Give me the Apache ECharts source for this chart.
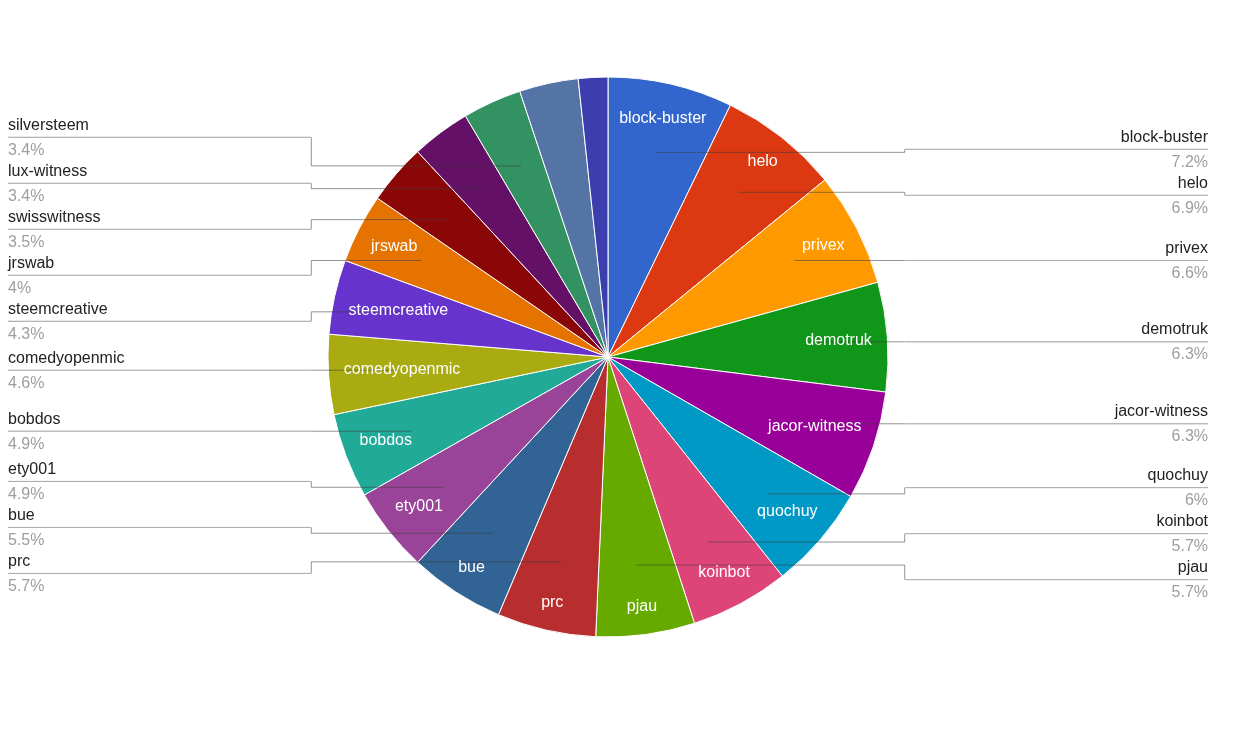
<!DOCTYPE html>
<html>
<head>
<meta charset="utf-8">
<title>witness share</title>
<script src="https://cdn.jsdelivr.net/npm/echarts@6/dist/echarts.min.js"></script>
<style>
  html, body { margin: 0; padding: 0; background: #fff; }
  #main { width: 1250px; height: 750px; }
</style>
</head>
<body>
<div id="main"></div>
<script>
// slice names (the last two have no label in the picture)
var names = ['block-buster', 'helo', 'privex', 'demotruk', 'jacor-witness', 'quochuy',
  'koinbot', 'pjau', 'prc', 'bue', 'ety001', 'bobdos', 'comedyopenmic', 'steemcreative',
  'jrswab', 'swisswitness', 'lux-witness', 'silversteem', '', ''];
// share in percent
var shares = [7.2, 6.9, 6.6, 6.3, 6.3, 6, 5.7, 5.7, 5.7, 5.5, 4.9, 4.9, 4.6, 4.3,
  4, 3.5, 3.4, 3.4, 3.4, 1.7];
var colors = ['#3366cc', '#dc3912', '#ff9900', '#109618', '#990099', '#0099c6', '#dd4477',
  '#66aa00', '#b82e2e', '#316395', '#994499', '#22aa99', '#aaaa11', '#6633cc', '#e67300',
  '#8b0707', '#651067', '#329262', '#5574a6', '#3b3eac'];

var CX = 608, CY = 357, R = 280;
var FONT = '"Liberation Sans", Arial, sans-serif';
var FS = 16;
var GAP = 46; // vertical room of one outside label

// anchor of each leader line: 3/4 of the radius on the slice's middle angle
var total = shares.reduce(function (a, b) { return a + b; }, 0);
var anchors = [];
var cum = 0;
shares.forEach(function (s) {
  var th = 2 * Math.PI * (cum + s / 2) / total;
  cum += s;
  anchors.push({ x: CX + 0.75 * R * Math.sin(th), y: CY - 0.75 * R * Math.cos(th), right: Math.sin(th) >= 0 });
});

// stack the outside labels of each side around their anchors without overlap
var labelY = [];
function spread(items) {
  items.sort(function (a, b) { return a.y - b.y; });
  var clusters = [];
  items.forEach(function (it) {
    clusters.push({ members: [it], sum: it.y });
    while (clusters.length > 1) {
      var b = clusters[clusters.length - 1], a = clusters[clusters.length - 2];
      var aTop = a.sum / a.members.length - (a.members.length - 1) * GAP / 2;
      var bTop = b.sum / b.members.length - (b.members.length - 1) * GAP / 2;
      if (aTop + a.members.length * GAP <= bTop) break;
      a.members = a.members.concat(b.members);
      a.sum += b.sum;
      clusters.pop();
    }
  });
  clusters.forEach(function (c) {
    var top = c.sum / c.members.length - (c.members.length - 1) * GAP / 2;
    c.members.forEach(function (m, k) { labelY[m.i] = top + k * GAP; });
  });
}
var leftItems = [], rightItems = [];
names.forEach(function (n, i) {
  if (n === '') return;
  (anchors[i].right ? rightItems : leftItems).push({ i: i, y: anchors[i].y });
});
spread(leftItems);
spread(rightItems);

var chart = echarts.init(document.getElementById('main'));

var sliceData = names.map(function (n, i) {
  return { name: n, value: shares[i] };
});
var outerData = names.map(function (n, i) {
  return { name: n, value: shares[i], label: { show: n !== '' }, labelLine: { show: n !== '' } };
});
// names drawn inside the slice only where they fit
var innerData = names.map(function (n, i) {
  return { name: n, value: shares[i], label: { show: n !== '' && shares[i] >= 4 } };
});

var base = {
  type: 'pie',
  left: 0, top: 0, right: 34, bottom: 0,
  center: [CX, CY],
  radius: [0, R],
  startAngle: 90,
  clockwise: true
};

var option = {
  backgroundColor: '#fff',
  animation: false,
  series: [
    Object.assign({}, base, {
      z: 2,
      color: colors,
      itemStyle: { borderColor: '#fff', borderWidth: 1 },
      emphasis: { disabled: true },
      label: { show: false },
      labelLine: { show: false },
      data: sliceData
    }),
    Object.assign({}, base, {
      z: 5,
      silent: true,
      emphasis: { disabled: true },
      itemStyle: { color: 'rgba(0,0,0,0)', borderWidth: 0 },
      avoidLabelOverlap: false,
      label: {
        position: 'outer',
        alignTo: 'edge',
        edgeDistance: 8,
        distanceToLabelLine: 0,
        width: 303,
        formatter: '{n|{b}}\n{hr|}\n{p|{d}%}',
        rich: {
          n: { fontSize: FS, fontFamily: FONT, color: '#222', lineHeight: 22 },
          hr: { width: '100%', height: 0, lineHeight: 2, borderColor: '#9a9a9a', borderWidth: 0.6 },
          p: { fontSize: FS, fontFamily: FONT, color: '#9e9e9e', lineHeight: 24 }
        }
      },
      labelLine: {
        show: true,
        length: 10,
        length2: 10,
        lineStyle: { color: 'rgba(60,60,60,0.55)', width: 1 }
      },
      labelLayout: function (p) {
        var i = p.dataIndex;
        var a = anchors[i];
        var ly = labelY[i];
        var rc = p.labelRect;
        var ex = a.right ? rc.x : rc.x + rc.width;
        return { y: ly + 1, labelLinePoints: [[a.x, a.y], [ex, a.y], [ex, ly]] };
      },
      data: outerData
    }),
    Object.assign({}, base, {
      z: 6,
      silent: true,
      emphasis: { disabled: true },
      itemStyle: { color: 'rgba(0,0,0,0)', borderWidth: 0 },
      label: { position: 'inside', color: '#fff', fontSize: FS, fontFamily: FONT },
      labelLine: { show: false },
      labelLayout: function (p) {
        var rc = p.labelRect;
        var mx = rc.x + rc.width / 2, my = rc.y + rc.height / 2;
        var dx = mx - CX, dy = my - CY;
        var d = Math.sqrt(dx * dx + dy * dy) || 1;
        var ux = dx / d, uy = dy / d;
        var hw = rc.width / 2, hh = rc.height / 2;
        var c = ux * (ux >= 0 ? hw : -hw) + uy * (uy >= 0 ? hh : -hh);
        var lim = R - 15;
        var rr = Math.min(0.9 * R, -c + Math.sqrt(c * c - (hw * hw + hh * hh) + lim * lim));
        return { x: CX + ux * rr, y: CY + uy * rr };
      },
      data: innerData
    })
  ]
};

chart.setOption(option);
</script>
</body>
</html>
